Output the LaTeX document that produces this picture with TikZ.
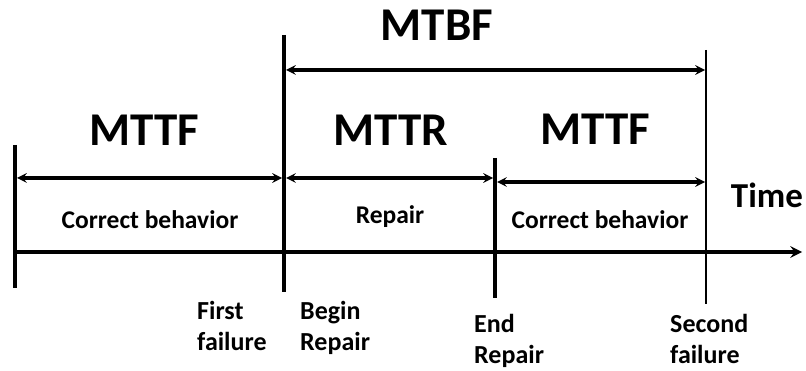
\documentclass[tikz,border=0pt]{standalone}
\usepackage{fontspec}
\setmainfont{Carlito}
\usetikzlibrary{arrows}
\usetikzlibrary{positioning}
\tikzstyle{tick} = [line width=4pt]
\tikzstyle{arrow} = [line width=3pt,->,>=stealth]
\tikzstyle{span} = [line width=3.2pt,<->,>=stealth]
\tikzstyle{big} = [font=\fontsize{47}{52}\selectfont\bfseries, inner sep=0pt]
\tikzstyle{lbl} = [font=\fontsize{25.5}{31}\selectfont\bfseries, inner sep=0pt]
\tikzstyle{event} = [lbl, font=\fontsize{26}{31}\selectfont\bfseries, align=left, anchor=north west]

\begin{document}
\begin{tikzpicture}[x=1pt, y=1pt, node distance=1cm]
  \useasboundingbox (0,0) rectangle (806,370);

  % time instants
  \coordinate (start top) at (15,225);    \coordinate (start bot) at (15,82);
  \coordinate (first top) at (284,335);   \coordinate (first bot) at (284,78);
  \coordinate (end top) at (495,212);     \coordinate (end bot) at (495,72);
  \coordinate (second top) at (706,320);  \coordinate (second bot) at (706,66);
  \draw[tick] (start top) -- (start bot);
  \draw[tick] (first top) -- (first bot);
  \draw[tick] (end top) -- (end bot);
  \draw[line width=2.5pt] (second top) -- (second bot);

  % time axis
  \coordinate (axis start) at (15,118);
  \coordinate (axis end) at (802,118);
  \draw[arrow, line width=4pt] (axis start) -- (axis end);
  \node (time) [font=\fontsize{35}{40}\selectfont\bfseries, inner sep=0pt] at (767,175) {Time};

  % spans
  \coordinate (mtbf a) at (286,300);  \coordinate (mtbf b) at (705,300);
  \coordinate (up a) at (17,192);     \coordinate (up b) at (282,192);
  \coordinate (rep a) at (286,192);   \coordinate (rep b) at (493,192);
  \coordinate (up2 a) at (497,188);   \coordinate (up2 b) at (705,188);
  \draw[span] (mtbf a) -- (mtbf b);
  \draw[span] (up a) -- (up b);
  \draw[span] (rep a) -- (rep b);
  \draw[span] (up2 a) -- (up2 b);

  \node (mtbf) [big] at (437,345) {MTBF};
  \node (mttf1) [big] at (144,240) {MTTF};
  \node (mttr) [big] at (391,240) {MTTR};
  \node (mttf2) [big] at (595,241) {MTTF};

  \node (ok1) [lbl] at (150,150) {Correct behavior};
  \node (repair) [lbl] at (390,153) {Repair};
  \node (ok2) [lbl] at (600,150) {Correct behavior};

  % events
  \node (ev first) [event] at (197,69) {First\\failure};
  \node (ev begin) [event, right=103pt of ev first.north west, anchor=north west] {Begin\\Repair};
  \node (ev end) [event] at (474,56) {End\\Repair};
  \node (ev second) [event, right=196pt of ev end.north west, anchor=north west] {Second\\failure};
\end{tikzpicture}
\end{document}
